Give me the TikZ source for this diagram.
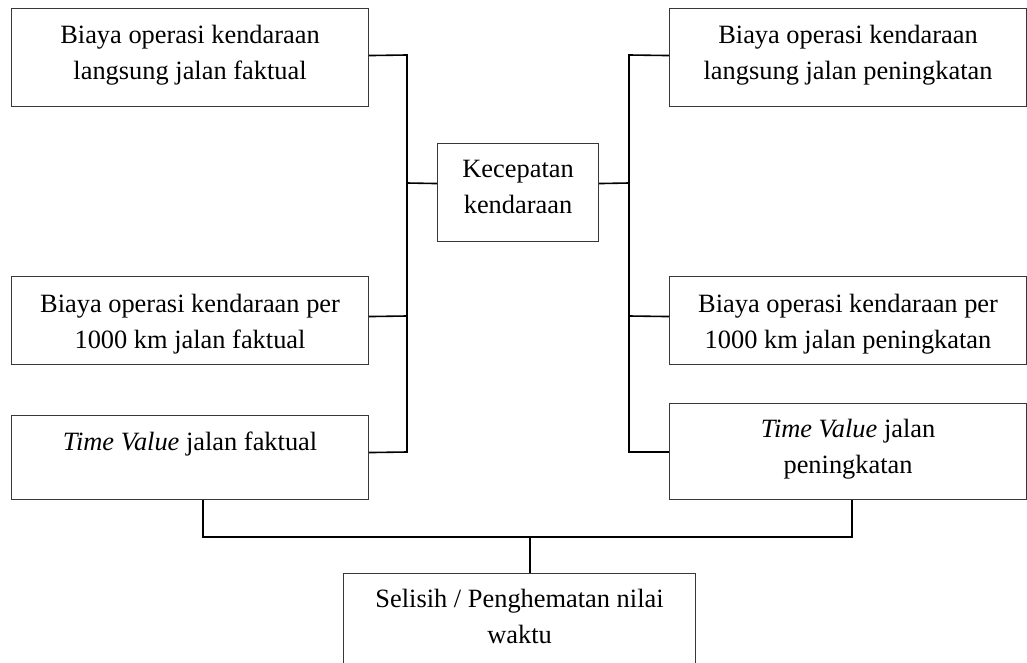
\documentclass[tikz,border=0pt]{standalone}
\usepackage{fontspec}
\setmainfont{Liberation Serif}
\begin{document}
\begin{tikzpicture}[x=1pt,y=-1pt,
  box/.style={draw=black!78, line width=1.1pt, inner sep=0pt, anchor=north west},
  txt/.style={inner sep=0pt, anchor=north, align=center, font=\fontsize{26.4}{36}\selectfont},
  conn/.style={draw=black, line width=1.6pt}]
\useasboundingbox (0,0) rectangle (1027,663);
\clip (0,0) rectangle (1027,663);
% boxes
\node[box, minimum width=357pt, minimum height=98pt] (L1) at (11,8) {};
\node[box, minimum width=357pt, minimum height=88pt] (L2) at (11,276) {};
\node[box, minimum width=357pt, minimum height=84pt] (L3) at (11,415) {};
\node[box, minimum width=161pt, minimum height=98pt] (C) at (437,143) {};
\node[box, minimum width=357pt, minimum height=98pt] (R1) at (669,8) {};
\node[box, minimum width=357pt, minimum height=88pt] (R2) at (669,276) {};
\node[box, minimum width=357pt, minimum height=96pt] (R3) at (669,403) {};
\node[box, minimum width=352pt, minimum height=130pt] (B) at (343,573) {};
% texts
\node[txt] (tL1) at ([yshift=-9.8pt]L1.north) {\strut Biaya operasi kendaraan\\langsung jalan faktual};
\node[txt] (tL2) at ([yshift=-10.8pt]L2.north) {\strut Biaya operasi kendaraan per\\1000 km jalan faktual};
\node[txt] (tL3) at ([yshift=-9.8pt]L3.north) {\strut \textit{Time Value} jalan faktual};
\node[txt] (tC) at ([yshift=-8.8pt]C.north) {\strut Kecepatan\\kendaraan};
\node[txt] (tR1) at ([yshift=-9.8pt]R1.north) {\strut Biaya operasi kendaraan\\langsung jalan peningkatan};
\node[txt] (tR2) at ([yshift=-10.8pt]R2.north) {\strut Biaya operasi kendaraan per\\1000 km jalan peningkatan};
\node[txt] (tR3) at ([yshift=-8.8pt]R3.north) {\strut \textit{Time Value} jalan\\peningkatan};
\node[txt] (tB) at ([yshift=-8.8pt]B.north) {\strut Selisih / Penghematan nilai\\waktu};
% junction coordinates
\coordinate (jl1) at (407,55);
\coordinate (jlc) at (407,183);
\coordinate (jl2) at (407,316);
\coordinate (jl3) at (407,452);
\coordinate (jr1) at (629,55);
\coordinate (jrc) at (629,183);
\coordinate (jr2) at (629,316);
\coordinate (jr3) at (629,452);
\coordinate (jb1) at (203,537);
\coordinate (jb3) at (530,537);
\coordinate (jb2) at (852,537);
% left connectors
\draw[conn] ([yshift=2pt]L1.east) -- (jl1) -- (jl2) -- ([yshift=4pt]L2.east);
\draw[conn] (jl2) -- (jl3) -- ([yshift=5pt]L3.east);
\draw[conn] ([yshift=9pt]C.west) -- (jlc);
% right connectors
\draw[conn] ([yshift=9pt]C.east) -- (jrc);
\draw[conn] ([yshift=2pt]R1.west) -- (jr1) -- (jr2) -- ([yshift=4pt]R2.west);
\draw[conn] (jr2) -- (jr3) -- (R3.west |- jr3);
% bottom connectors
\draw[conn] (L3.south -| jb1) -- (jb1) -- (jb2) -- (R3.south -| jb2);
\draw[conn] (jb3) -- (B.north -| jb3);
\end{tikzpicture}
\end{document}
